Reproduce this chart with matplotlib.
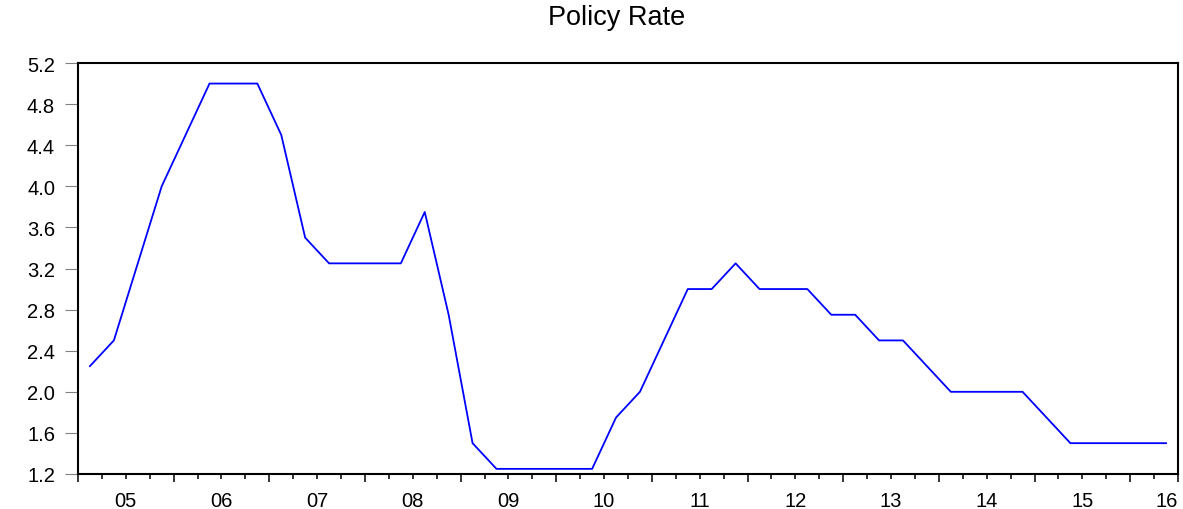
import numpy as np
import matplotlib
matplotlib.use("Agg")
import matplotlib.pyplot as plt
from matplotlib.ticker import FixedLocator, NullFormatter

plt.rcParams["font.family"] = ["Liberation Sans", "DejaVu Sans"]

# ── Data: quarterly policy rate, 2005Q1 .. 2016Q2 ────────────────────────────
start_year = 2005
years = list(range(2005, 2017))
year_labels = ["05", "06", "07", "08", "09", "10", "11", "12", "13", "14", "15", "16"]
rate = [
    2.25, 2.5, 3.25, 4.0,      # 2005
    4.5, 5.0, 5.0, 5.0,        # 2006
    4.5, 3.5, 3.25, 3.25,      # 2007
    3.25, 3.25, 3.75, 2.75,    # 2008
    1.5, 1.25, 1.25, 1.25,     # 2009
    1.25, 1.25, 1.75, 2.0,     # 2010
    2.5, 3.0, 3.0, 3.25,       # 2011
    3.0, 3.0, 3.0, 2.75,       # 2012
    2.75, 2.5, 2.5, 2.25,      # 2013
    2.0, 2.0, 2.0, 2.0,        # 2014
    1.75, 1.5, 1.5, 1.5,       # 2015
    1.5, 1.5,                  # 2016
]
y_ticks = [1.2, 1.6, 2.0, 2.4, 2.8, 3.2, 3.6, 4.0, 4.4, 4.8, 5.2]

# quarter mid-points in fractional years
n = len(rate)
x = start_year + (np.arange(n) + 0.5) / 4.0
x_end = start_year + n / 4.0

W, H = 1183, 510
fig = plt.figure(figsize=(W / 100, H / 100), dpi=100)
ax = fig.add_axes([78 / W, 1 - 475 / H, 1100 / W, 411 / H])

ax.plot(x, rate, color="#0000ff", lw=1.3)

ax.set_xlim(start_year, x_end)
ax.set_ylim(y_ticks[0], y_ticks[-1])

# y axis: grey outward ticks
ax.set_yticks(y_ticks)
ax.set_yticklabels([f"{v:.1f}" for v in y_ticks])
ax.tick_params(axis="y", direction="out", length=9.5, width=0.8,
               color="#808080", pad=7, labelsize=14.5)

# x axis: year ticks + quarter ticks, labels centred on each year
ax.xaxis.set_major_locator(FixedLocator(years + [x_end]))
ax.xaxis.set_minor_locator(FixedLocator(start_year + np.arange(n + 1) / 4.0))
ax.xaxis.set_major_formatter(NullFormatter())
ax.tick_params(axis="x", which="major", direction="out", length=6, width=1.1,
               color="black")
ax.tick_params(axis="x", which="minor", direction="out", length=3.6, width=1.1,
               color="black")

trans = ax.get_xaxis_transform()
for yr, lab in zip(years, year_labels):
    xc = yr + 0.5
    if xc + 0.2 > x_end:
        ax.text(x_end, -0.042, lab, transform=trans, ha="right", va="top",
                fontsize=14.5)
    else:
        ax.text(xc, -0.042, lab, transform=trans, ha="center", va="top",
                fontsize=14.5)

for side in ["left", "bottom", "top", "right"]:
    ax.spines[side].set_linewidth(1.5)
    ax.spines[side].set_color("black")

fig.text(617 / W, 1 - 18 / H, "Policy Rate", ha="center", va="center",
         fontsize=19.5)

fig.savefig("out.png", dpi=100)
